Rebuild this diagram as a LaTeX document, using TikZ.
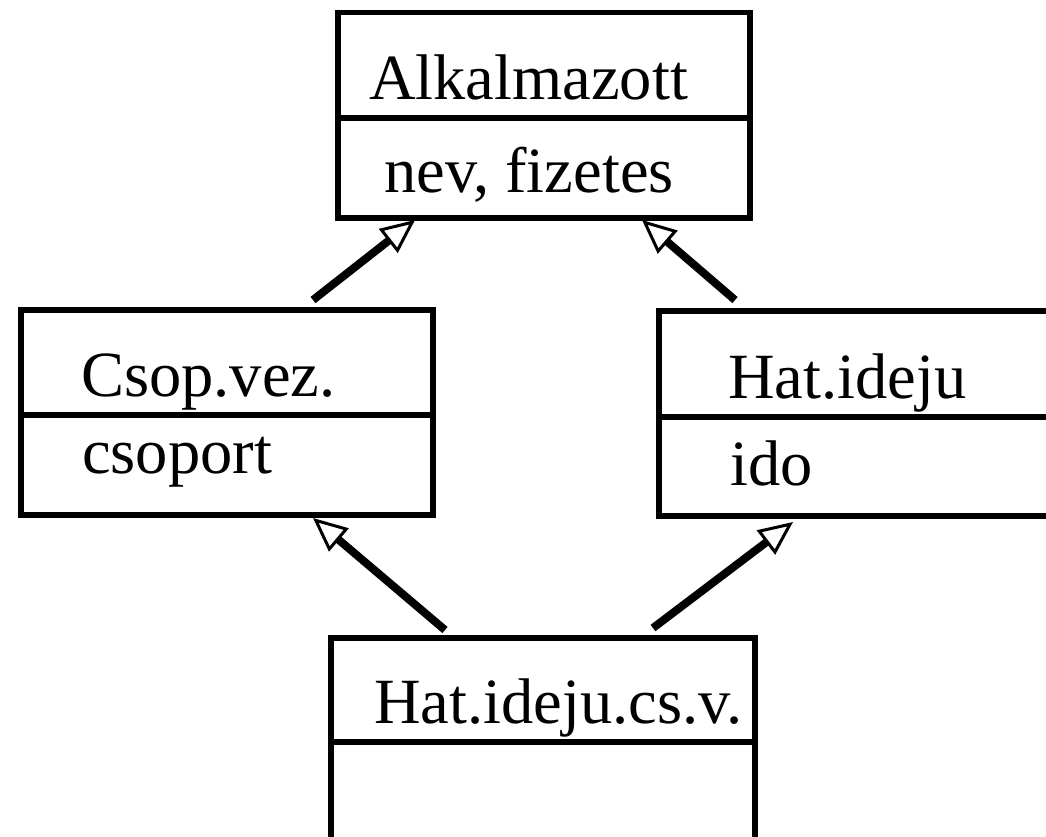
\documentclass[tikz,border=0pt]{standalone}
\usepackage{fontspec}
\setmainfont{Liberation Serif}
\usetikzlibrary{arrows.meta,calc}
\begin{document}
\begin{tikzpicture}[x=1pt,y=-1pt,
  classbox/.style={draw,line width=5.5pt,rectangle,inner sep=0pt,anchor=north west,minimum width=412pt,minimum height=205pt},
  divider/.style={line width=5.5pt},
  lbl/.style={anchor=base west,inner sep=0pt,font=\fontsize{64.5}{70}\selectfont},
  inherit/.style={line width=8pt,-{Triangle[open,length=34pt,width=30pt,line width=3pt]}}]
\useasboundingbox (0,0) rectangle (1046,837);
\node[classbox] (top) at (335,10) {};
\node[classbox] (left) at (18,307) {};
\node[classbox] (right) at (656,308) {};
\node[classbox,minimum width=424pt,minimum height=215pt] (bot) at (328,635) {};
\draw[divider] (335,118) -- (747,118);
\draw[divider] (18,415) -- (430,415);
\draw[divider] (656,417) -- (1068,417);
\draw[divider] (328,742) -- (752,742);
\node[lbl] (t1) at (369,100) {Alkalmazott};
\node[lbl] (t2) at (384,193) {nev, fizetes};
\node[lbl] (l1) at (81,396) {Csop.vez.};
\node[lbl] (l2) at (82,473) {csoport};
\node[lbl] (r1) at (728,398) {Hat.ideju};
\node[lbl] (r2) at (730,485) {ido};
\node[lbl] (b1) at (374,723) {Hat.ideju.cs.v.};
\coordinate (a1s) at (313,300); \coordinate (a1e) at (415,220);
\coordinate (a2s) at (735,300); \coordinate (a2e) at (642,220);
\coordinate (a3s) at (445,630); \coordinate (a3e) at (313,518);
\coordinate (a4s) at (653,628); \coordinate (a4e) at (793,522);
\draw[inherit] (a1s) -- (a1e);
\draw[inherit] (a2s) -- (a2e);
\draw[inherit] (a3s) -- (a3e);
\draw[inherit] (a4s) -- (a4e);
\end{tikzpicture}
\end{document}
